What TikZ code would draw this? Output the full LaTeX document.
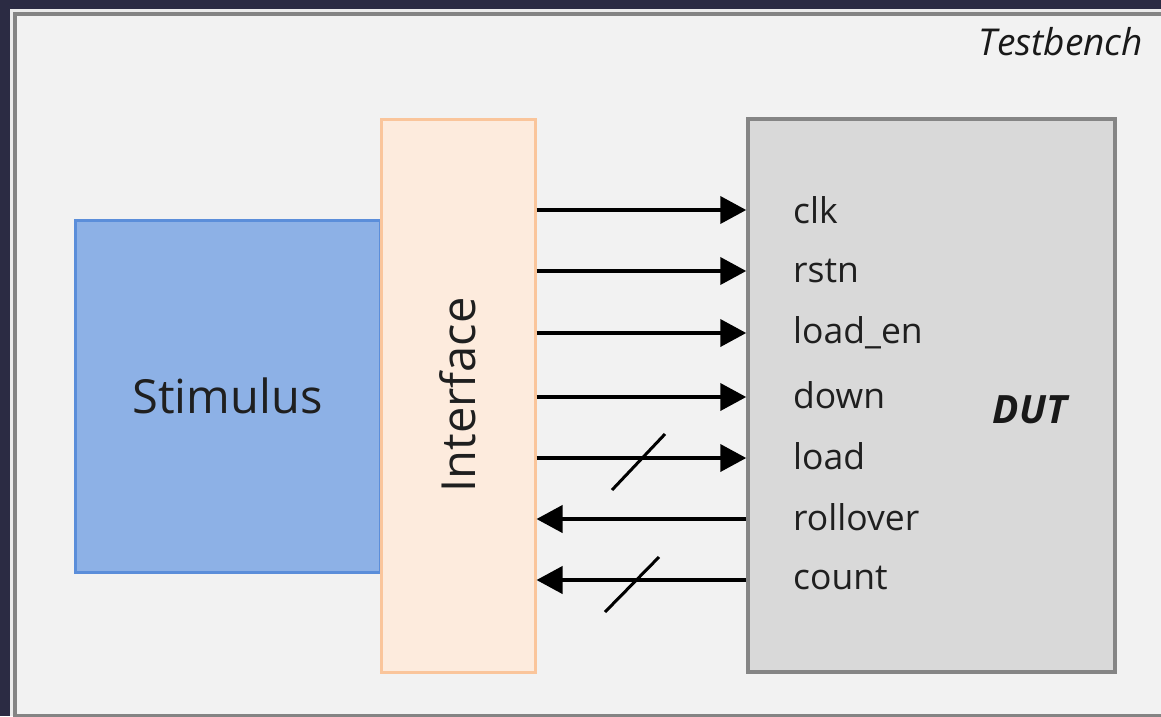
\documentclass[tikz,border=0pt]{standalone}
\usepackage{fontspec}
\setmainfont{Open Sans}
\usetikzlibrary{arrows.meta}
\definecolor{bgdark}{HTML}{2B2B43}
\definecolor{tbfill}{HTML}{F2F2F2}
\definecolor{tbline}{HTML}{848484}
\definecolor{stimfill}{HTML}{8DB1E6}
\definecolor{stimline}{HTML}{5B8EDA}
\definecolor{iffill}{HTML}{FDEBDD}
\definecolor{ifline}{HTML}{FAC59B}
\definecolor{dutfill}{HTML}{D9D9D9}
\definecolor{dutline}{HTML}{858585}
\tikzset{
  sig/.style={line width=4pt, -{Triangle[length=26pt,width=27pt]}},
  sigback/.style={line width=4pt, {Triangle[length=26pt,width=27pt]}-},
  bus/.style={line width=3pt},
  portlbl/.style={anchor=west, inner sep=0pt, font=\fontsize{35.5}{40}\selectfont, text=black!88},
  bigtxt/.style={font=\fontsize{47}{52}\selectfont, text=black!88}
}
\begin{document}
\begin{tikzpicture}[x=1pt,y=-1pt]
\useasboundingbox (0,0) rectangle (1161,716);
\fill[bgdark] (0,0) rectangle (1161,716);
\fill[white!92!black] (10,9) rectangle (1161,716);
\draw[tbline, fill=tbfill, line width=3.5pt] (15,14) rectangle (1175,715.5);
\node[anchor=east, inner sep=0pt, font=\fontsize{37}{40}\selectfont\itshape, text=black!90] (tb) at (1143,42) {Testbench};
% blocks
\node[draw=stimline, fill=stimfill, line width=3pt, minimum width=305pt, minimum height=352pt, inner sep=0pt] (stim) at (227.5,396) {};
\node[bigtxt] (stimtxt) at (stim.center) {Stimulus};
\node[draw=ifline, fill=iffill, line width=3pt, minimum width=154pt, minimum height=553pt, inner sep=0pt] (intf) at (458,395.5) {};
\node[bigtxt, rotate=90] (iftxt) at (458,395) {Interface};
\node[draw=dutline, fill=dutfill, line width=3.5pt, minimum width=367pt, minimum height=553pt, inner sep=0pt] (dut) at (931.5,395.5) {};
\node[font=\fontsize{39}{42}\selectfont\bfseries\itshape, text=black!90] (duttxt) at (1030,410) {DUT};
% port coordinates
\foreach \n/\y in {clk/210,rstn/271,loaden/333,down/397,load/458,rollover/519,count/580}{
  \coordinate (L\n) at (intf.east |- 0,\y);
  \coordinate (R\n) at (dut.west |- 0,\y);
}
\draw[sig] (Lclk) -- (Rclk);
\draw[sig] (Lrstn) -- (Rrstn);
\draw[sig] (Lloaden) -- (Rloaden);
\draw[sig] (Ldown) -- (Rdown);
\draw[sig] (Lload) -- (Rload);
\draw[sigback] (Lrollover) -- (Rrollover);
\draw[sigback] (Lcount) -- (Rcount);
% bus slashes
\coordinate (s1a) at (612,490); \coordinate (s1b) at (665,434);
\coordinate (s2a) at (605,612); \coordinate (s2b) at (659,557);
\draw[bus] (s1a) -- (s1b);
\draw[bus] (s2a) -- (s2b);
% labels
\node[portlbl] (tclk) at (793,210) {clk};
\node[portlbl] (trstn) at (793,271) {rstn};
\node[portlbl] (tloaden) at (793,333) {load\_en};
\node[portlbl] (tdown) at (793,395) {down};
\node[portlbl] (tload) at (793,456) {load};
\node[portlbl] (trollover) at (793,517) {rollover};
\node[portlbl] (tcount) at (793,578) {count};
\end{tikzpicture}
\end{document}
